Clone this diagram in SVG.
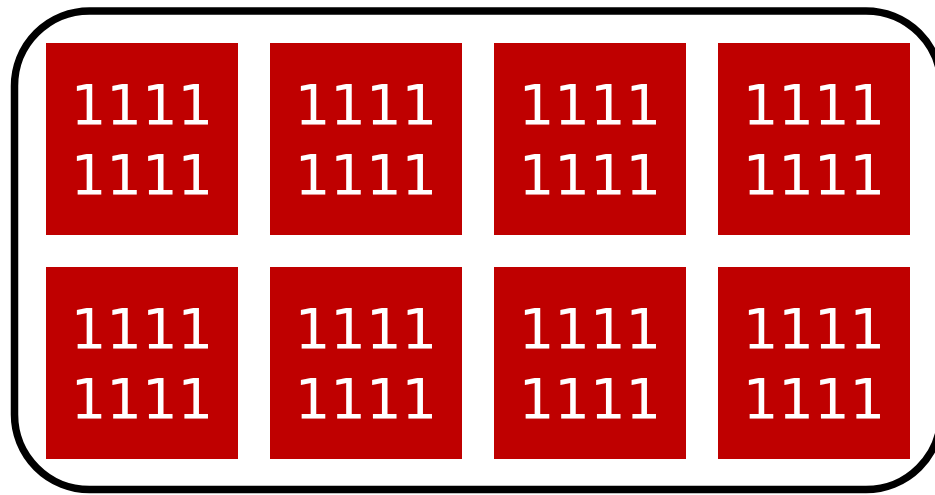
<svg xmlns="http://www.w3.org/2000/svg" width="935" height="495" viewBox="0 0 935 495">
<style>
.b{fill:#bf0000}
.t{fill:#fff;font-family:"DejaVu Sans",sans-serif;font-size:56px;text-anchor:middle}
</style>
<rect width="935" height="495" fill="#fff"/>
<rect x="14.5" y="11" width="926.5" height="478.5" rx="75" fill="none" stroke="#000" stroke-width="7.5"/>
<g id="n1"><rect class="b" x="46" y="43" width="192" height="192"/><text class="t" x="142" y="124">1111</text><text class="t" x="142" y="194">1111</text></g>
<g id="n2"><rect class="b" x="270" y="43" width="192" height="192"/><text class="t" x="366" y="124">1111</text><text class="t" x="366" y="194">1111</text></g>
<g id="n3"><rect class="b" x="494" y="43" width="192" height="192"/><text class="t" x="590" y="124">1111</text><text class="t" x="590" y="194">1111</text></g>
<g id="n4"><rect class="b" x="718" y="43" width="192" height="192"/><text class="t" x="814" y="124">1111</text><text class="t" x="814" y="194">1111</text></g>
<g id="n5"><rect class="b" x="46" y="267" width="192" height="192"/><text class="t" x="142" y="348">1111</text><text class="t" x="142" y="418">1111</text></g>
<g id="n6"><rect class="b" x="270" y="267" width="192" height="192"/><text class="t" x="366" y="348">1111</text><text class="t" x="366" y="418">1111</text></g>
<g id="n7"><rect class="b" x="494" y="267" width="192" height="192"/><text class="t" x="590" y="348">1111</text><text class="t" x="590" y="418">1111</text></g>
<g id="n8"><rect class="b" x="718" y="267" width="192" height="192"/><text class="t" x="814" y="348">1111</text><text class="t" x="814" y="418">1111</text></g>
<g id="connectors"/>
</svg>
